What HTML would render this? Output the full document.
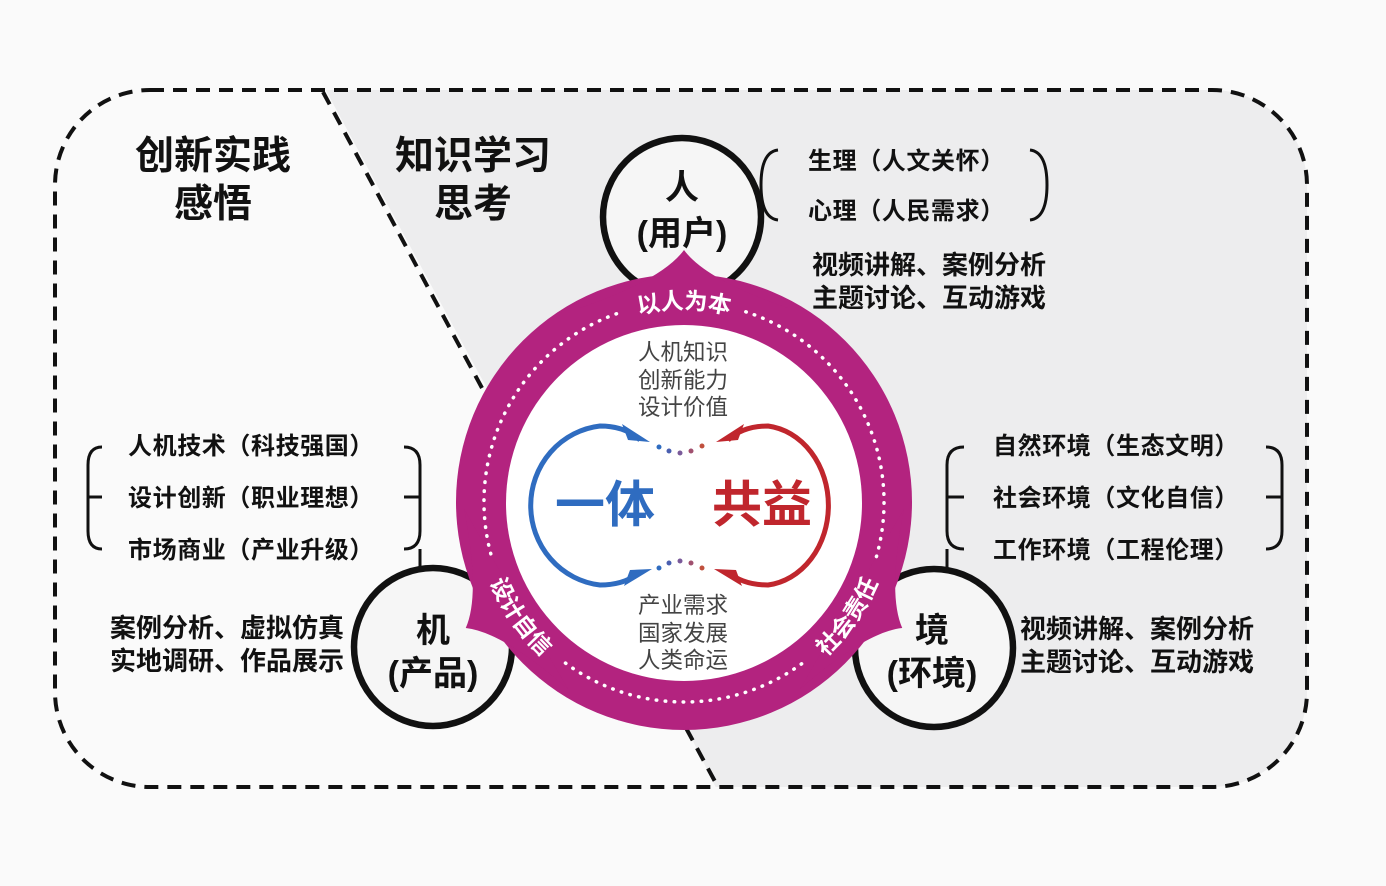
<!DOCTYPE html>
<html><head><meta charset="utf-8"><style>
html,body{margin:0;padding:0;background:#fafafa;}
svg{display:block;}
text{font-family:"Liberation Sans","Noto Sans CJK SC",sans-serif;}
</style></head><body>
<svg width="1386" height="886" viewBox="0 0 1386 886" xmlns="http://www.w3.org/2000/svg">
<defs>
<clipPath id="rr"><rect x="55" y="90" width="1252" height="697" rx="95"/></clipPath>
<path id="tp1" d="M559.9 354.2 A193 193 0 0 1 808.1 354.2" fill="none"/>
<path id="tp2" d="M474.8 520.3 A210 210 0 0 0 595.2 692.3" fill="none"/>
<path id="tp3" d="M772.8 692.3 A210 210 0 0 0 893.2 520.3" fill="none"/>
</defs>
<rect width="1386" height="886" fill="#fafafa"/>
<polygon clip-path="url(#rr)" points="323,85 1320,85 1320,800 722,800 690,735 660,690 478,372" fill="#ededee"/>
<rect x="55" y="90" width="1252" height="697" rx="95" fill="none" stroke="#111" stroke-width="4" stroke-dasharray="14 9"/>
<line x1="323" y1="92" x2="482" y2="388" stroke="#111" stroke-width="4" stroke-dasharray="14 9"/>
<line x1="686" y1="728" x2="718" y2="787" stroke="#111" stroke-width="4" stroke-dasharray="14 9"/>

<g fill="none" stroke="#111" stroke-width="3">
<path d="M778 150 Q761 152 761 185 Q761 218 778 220"/>
<path d="M1030 150 Q1047 152 1047 185 Q1047 218 1030 220"/>
<path d="M102 447 Q88 447 88 465 L88 531 Q88 549 102 549 M88 497 L102 497"/>
<path d="M404 447 Q420 447 420 465 L420 531 Q420 549 404 549 M404 497 L420 497 M420 549 L420 570"/>
<path d="M964 447 Q947 447 947 465 L947 531 Q947 549 964 549 M947 497 L964 497 M947 549 L947 572"/>
<path d="M1266 447 Q1282 447 1282 465 L1282 531 Q1282 549 1266 549 M1266 497 L1282 497"/>
</g>

<g fill="#f6f6f6" stroke="#111" stroke-width="6.5">
<circle cx="682" cy="217" r="79"/>
<circle cx="433" cy="647" r="79"/>
<circle cx="934" cy="648" r="79"/>
</g>

<g fill="#b3237f">
<circle cx="684" cy="502" r="228"/>
<path d="M580 308 Q662 280 684 250 Q706 280 788 308 Z"/>
<path d="M580 308 Q662 280 684 250 Q706 280 788 308 Z" transform="rotate(-120 684 502)"/>
<path d="M580 308 Q662 280 684 250 Q706 280 788 308 Z" transform="rotate(120 684 502)"/>
</g>
<circle cx="684" cy="503" r="178" fill="#ffffff"/>
<g fill="none" stroke="#fff" stroke-width="3.5" stroke-linecap="round" stroke-dasharray="0.5 8.5">
<path d="M745.8 311.8 A200 200 0 0 1 876.3 557.1"/>
<path d="M801.6 663.8 A200 200 0 0 1 563.6 661.7"/>
<path d="M490.8 553.8 A200 200 0 0 1 622.2 311.8"/>
</g>
<g fill="#fff" font-size="23" font-weight="bold">
<text><textPath href="#tp1" startOffset="50%" text-anchor="middle">以人为本</textPath></text>
<text><textPath href="#tp2" startOffset="50%" text-anchor="middle">设计自信</textPath></text>
<text><textPath href="#tp3" startOffset="50%" text-anchor="middle">社会责任</textPath></text>
</g>

<path d="M640 440 Q625 426 600 426 A78 80 0 0 0 600 585 Q625 585 640 572" fill="none" stroke="#2f6cc0" stroke-width="5"/>
<polygon points="650,442 622,424 628,440" fill="#2f6cc0"/>
<polygon points="652,569 624,586 630,570" fill="#2f6cc0"/>
<path d="M728 440 Q743 426 768 426 A68 80 0 0 1 768 585 Q743 585 728 572" fill="none" stroke="#c0262d" stroke-width="5"/>
<polygon points="716,442 744,424 738,440" fill="#c0262d"/>
<polygon points="714,569 742,586 736,570" fill="#c0262d"/>
<g>
<circle cx="659" cy="447" r="2.5" fill="#2f6cc0"/><circle cx="669" cy="451" r="2.5" fill="#4a5fb0"/><circle cx="680" cy="453" r="2.5" fill="#7a5a9a"/><circle cx="691" cy="451" r="2.5" fill="#a0506f"/><circle cx="702" cy="446" r="2.5" fill="#c0503d"/>
<circle cx="659" cy="568" r="2.5" fill="#2f6cc0"/><circle cx="669" cy="563" r="2.5" fill="#4a5fb0"/><circle cx="680" cy="561" r="2.5" fill="#7a5a9a"/><circle cx="691" cy="563" r="2.5" fill="#a0506f"/><circle cx="702" cy="568" r="2.5" fill="#c0503d"/>
</g>
<text x="605" y="522" font-size="50" font-weight="bold" fill="#2f6cc0" text-anchor="middle">一体</text>
<text x="762" y="522" font-size="50" font-weight="bold" fill="#c0262d" text-anchor="middle">共益</text>
<g font-size="22.5" fill="#444" text-anchor="middle">
<text x="683" y="360">人机知识</text>
<text x="683" y="388">创新能力</text>
<text x="683" y="415">设计价值</text>
<text x="683" y="613">产业需求</text>
<text x="683" y="641">国家发展</text>
<text x="683" y="668">人类命运</text>
</g>

<g font-size="39" font-weight="bold" fill="#111" text-anchor="middle">
<text x="213" y="169">创新实践</text>
<text x="213" y="217">感悟</text>
<text x="473" y="169">知识学习</text>
<text x="473" y="217">思考</text>
</g>
<g font-size="34" font-weight="bold" fill="#111" text-anchor="middle">
<text x="682" y="199">人</text>
<text x="682" y="245">(用户)</text>
<text x="433" y="642">机</text>
<text x="433" y="685">(产品)</text>
<text x="932" y="642">境</text>
<text x="932" y="685">(环境)</text>
</g>
<g font-size="24" font-weight="bold" fill="#111" letter-spacing="0.6">
<text x="808" y="169">生理（人文关怀）</text>
<text x="808" y="219">心理（人民需求）</text>
<text x="128" y="454">人机技术（科技强国）</text>
<text x="128" y="506">设计创新（职业理想）</text>
<text x="128" y="558">市场商业（产业升级）</text>
<text x="993" y="454">自然环境（生态文明）</text>
<text x="993" y="506">社会环境（文化自信）</text>
<text x="993" y="558">工作环境（工程伦理）</text>
</g>
<g font-size="26" font-weight="bold" fill="#111">
<text x="812" y="274">视频讲解、案例分析</text>
<text x="812" y="307">主题讨论、互动游戏</text>
<text x="110" y="637">案例分析、虚拟仿真</text>
<text x="110" y="670">实地调研、作品展示</text>
<text x="1020" y="638">视频讲解、案例分析</text>
<text x="1020" y="671">主题讨论、互动游戏</text>
</g>
</svg>
</body></html>
